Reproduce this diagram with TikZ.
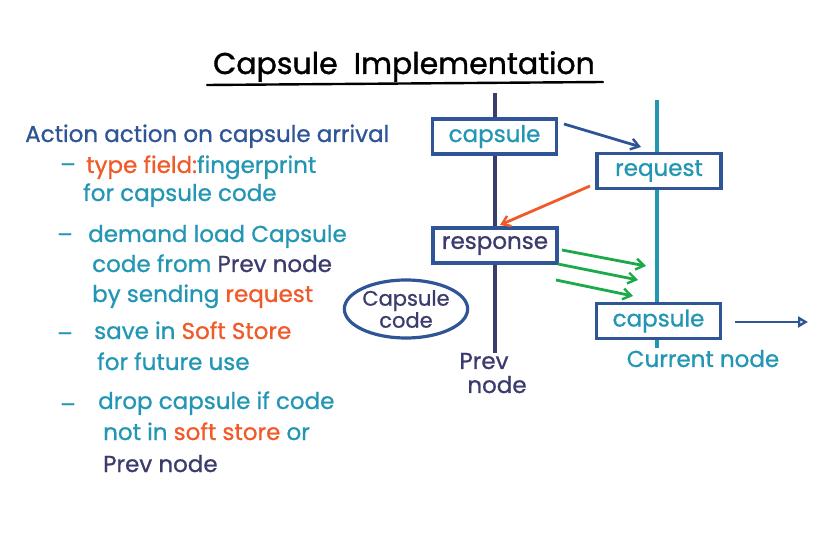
\documentclass[tikz,border=0pt]{standalone}
\usepackage{fontspec}
\newfontfamily\handfont{Poppins}[FakeBold=0.9]
\newfontfamily\titlefont{Poppins}[FakeBold=1.2]
\usetikzlibrary{arrows.meta,shapes.geometric}
\definecolor{navy}{HTML}{3B3B6E}
\definecolor{boxblue}{HTML}{2F5597}
\definecolor{teal}{HTML}{2396B4}
\definecolor{orng}{HTML}{F05A28}
\definecolor{grn}{HTML}{1BAA4A}
\newcommand{\hand}{\handfont\fontsize{23}{24}\selectfont}
\begin{document}
\begin{tikzpicture}[x=1pt,y=-1pt,
  msgbox/.style={draw=boxblue,line width=3.2pt,fill=white,minimum width=124pt,minimum height=35pt,inner sep=0pt,font=\hand},
  note/.style={anchor=base west,inner sep=0pt,font=\hand,text=teal},
  dashmark/.style={inner sep=0pt,font=\hand,text=teal},
  lifeline/.style={line width=3.8pt},
  sendarrow/.style={line width=2.8pt,-{Straight Barb[length=8pt,width=11pt,line width=2.4pt]}},
]
\useasboundingbox (0,0) rectangle (836,545);

% title
\node[anchor=base,inner sep=0pt,font=\titlefont\fontsize{30}{32}\selectfont] (title) at (404,74) {Capsule \ Implementation};
\draw[line width=2.4pt,line cap=round] (207,85) -- (603,82);

% lifelines
\coordinate (prevtop) at (495,93);
\coordinate (prevbot) at (495,353);
\coordinate (curtop) at (657,100);
\coordinate (curbot) at (657,348);
\draw[lifeline,navy] (prevtop) -- (prevbot);
\draw[lifeline,teal] (curtop) -- (curbot);

% message boxes
\node[msgbox,text=teal] (cap1) at (494.5,136.5) {capsule};
\node[msgbox,text=teal] (req) at (659,171) {request};
\node[msgbox,text=navy] (resp) at (495,245.5) {response};
\node[msgbox,text=teal] (cap2) at (658.5,321) {capsule};

% lifeline labels
\node[anchor=base,inner sep=0pt,font=\hand,text=navy] (prevlbl) at (484,369) {Prev};
\node[anchor=base,inner sep=0pt,font=\hand,text=navy] (nodelbl) at (497,393) {node};
\node[anchor=base,inner sep=0pt,font=\hand,text=teal] (curlbl) at (703,367) {Current node};

% capsule code store
\node[ellipse,draw=boxblue,line width=3.2pt,minimum width=122pt,minimum height=58pt,inner sep=0pt,align=center,text=navy,font=\handfont\fontsize{21}{22}\selectfont] (store) at (406,309) {Capsule\\code};

% messages
\coordinate (m1s) at (564,124);
\coordinate (m1e) at (641,147);
\draw[sendarrow,boxblue] (m1s) -- (m1e);
\coordinate (m2s) at (590,186);
\coordinate (m2e) at (500,225);
\draw[sendarrow,orng] (m2s) -- (m2e);
\coordinate (g1s) at (562,250);
\coordinate (g1e) at (646,266);
\coordinate (g2s) at (558,264);
\coordinate (g2e) at (638,280);
\coordinate (g3s) at (556,280);
\coordinate (g3e) at (633,296);
\draw[sendarrow,grn] (g1s) -- (g1e);
\draw[sendarrow,grn] (g2s) -- (g2e);
\draw[sendarrow,grn] (g3s) -- (g3e);
\coordinate (outs) at (735,322);
\coordinate (oute) at (808,322);
\draw[line width=2.8pt,boxblue,-{Triangle[open,length=10pt,width=11pt,line width=2.4pt]}] (outs) -- (oute);

% notes
\node[note,text=boxblue] (l1) at (25,142) {Action action on capsule arrival};
\node[dashmark] (d2) at (68,168) {–};
\node[note] (l2) at (86,173) {\textcolor{orng}{type field:}fingerprint};
\node[note] (l3) at (83,201) {for capsule code};
\node[dashmark] (d4) at (65,238) {–};
\node[note] (l4) at (88,242) {demand load Capsule};
\node[note] (l5) at (92,272) {code from \textcolor{navy}{Prev node}};
\node[note] (l6) at (92,302) {by sending \textcolor{orng}{request}};
\node[dashmark] (d7) at (65,337) {–};
\node[note] (l7) at (94,339) {save in \textcolor{orng}{Soft Store}};
\node[note] (l8) at (97,370) {for future use};
\node[dashmark] (d9) at (68,408) {–};
\node[note] (l9) at (98,409) {drop capsule if code};
\node[note] (l10) at (103,440) {not in \textcolor{orng}{soft store} or};
\node[note,text=navy] (l11) at (103,472) {Prev node};
\end{tikzpicture}
\end{document}
